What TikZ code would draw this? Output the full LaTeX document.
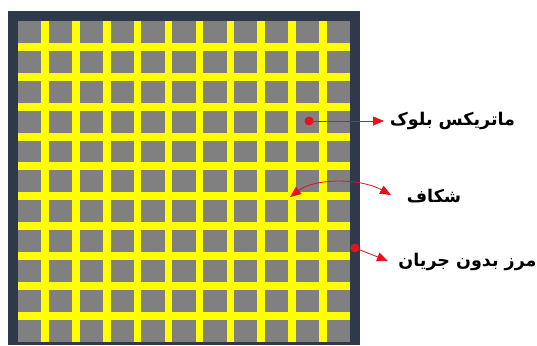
\documentclass[tikz,border=0pt]{standalone}
\usepackage{fontspec}
\newfontfamily\arabicfont[Script=Arabic]{DejaVu Sans}
\TeXXeTstate=1
\usetikzlibrary{arrows.meta}
\definecolor{framecol}{HTML}{2E3A4B}
\definecolor{cellgray}{HTML}{808080}
\definecolor{crackcol}{HTML}{FFFF00}
\definecolor{arrowred}{HTML}{E3121C}
\begin{document}
\begin{tikzpicture}[x=1pt,y=-1pt,
 lbl/.style={font=\arabicfont\bfseries\fontsize{17.5}{20}\selectfont, inner sep=0pt},
 reddot/.style={circle,fill=arrowred,minimum size=9pt,inner sep=0pt},
 redline/.style={draw=arrowred, line width=0.8pt},
 redtip/.tip={Triangle[length=11pt,width=9pt]}]
\useasboundingbox (0,0) rectangle (537,345);
\fill[framecol] (8,11) rectangle (360,345);
\fill[crackcol] (18,21) rectangle (350,341.7);
\foreach \i in {0,...,10}{\foreach \j in {0,...,10}{
  \fill[cellgray] ({18+\i*30.86},{21+\j*29.88}) rectangle +(23.4,21.9);
}}
\node[lbl] (t1) at (452.5,121) {\beginR ماتریکس بلوک\endR};
\node[lbl] (t2) at (434,196) {\beginR شکاف\endR};
\node[lbl] (t3) at (467.5,262) {\beginR مرز بدون جریان\endR};
\node[reddot] (d1) at (309,121) {};
\node[reddot] (d3) at (355,248) {};
\coordinate (e1) at (384,121);
\coordinate (e3) at (388,261);
\coordinate (g1) at (290,197);
\coordinate (g2) at (391,195);
\draw[redline,-redtip] (d1.center) -- (e1);
\draw[redline,-redtip] (d3.center) -- (e3);
\draw[redline,redtip-redtip] (g1) .. controls (315,178) and (360,178) .. (g2);
\end{tikzpicture}
\end{document}
